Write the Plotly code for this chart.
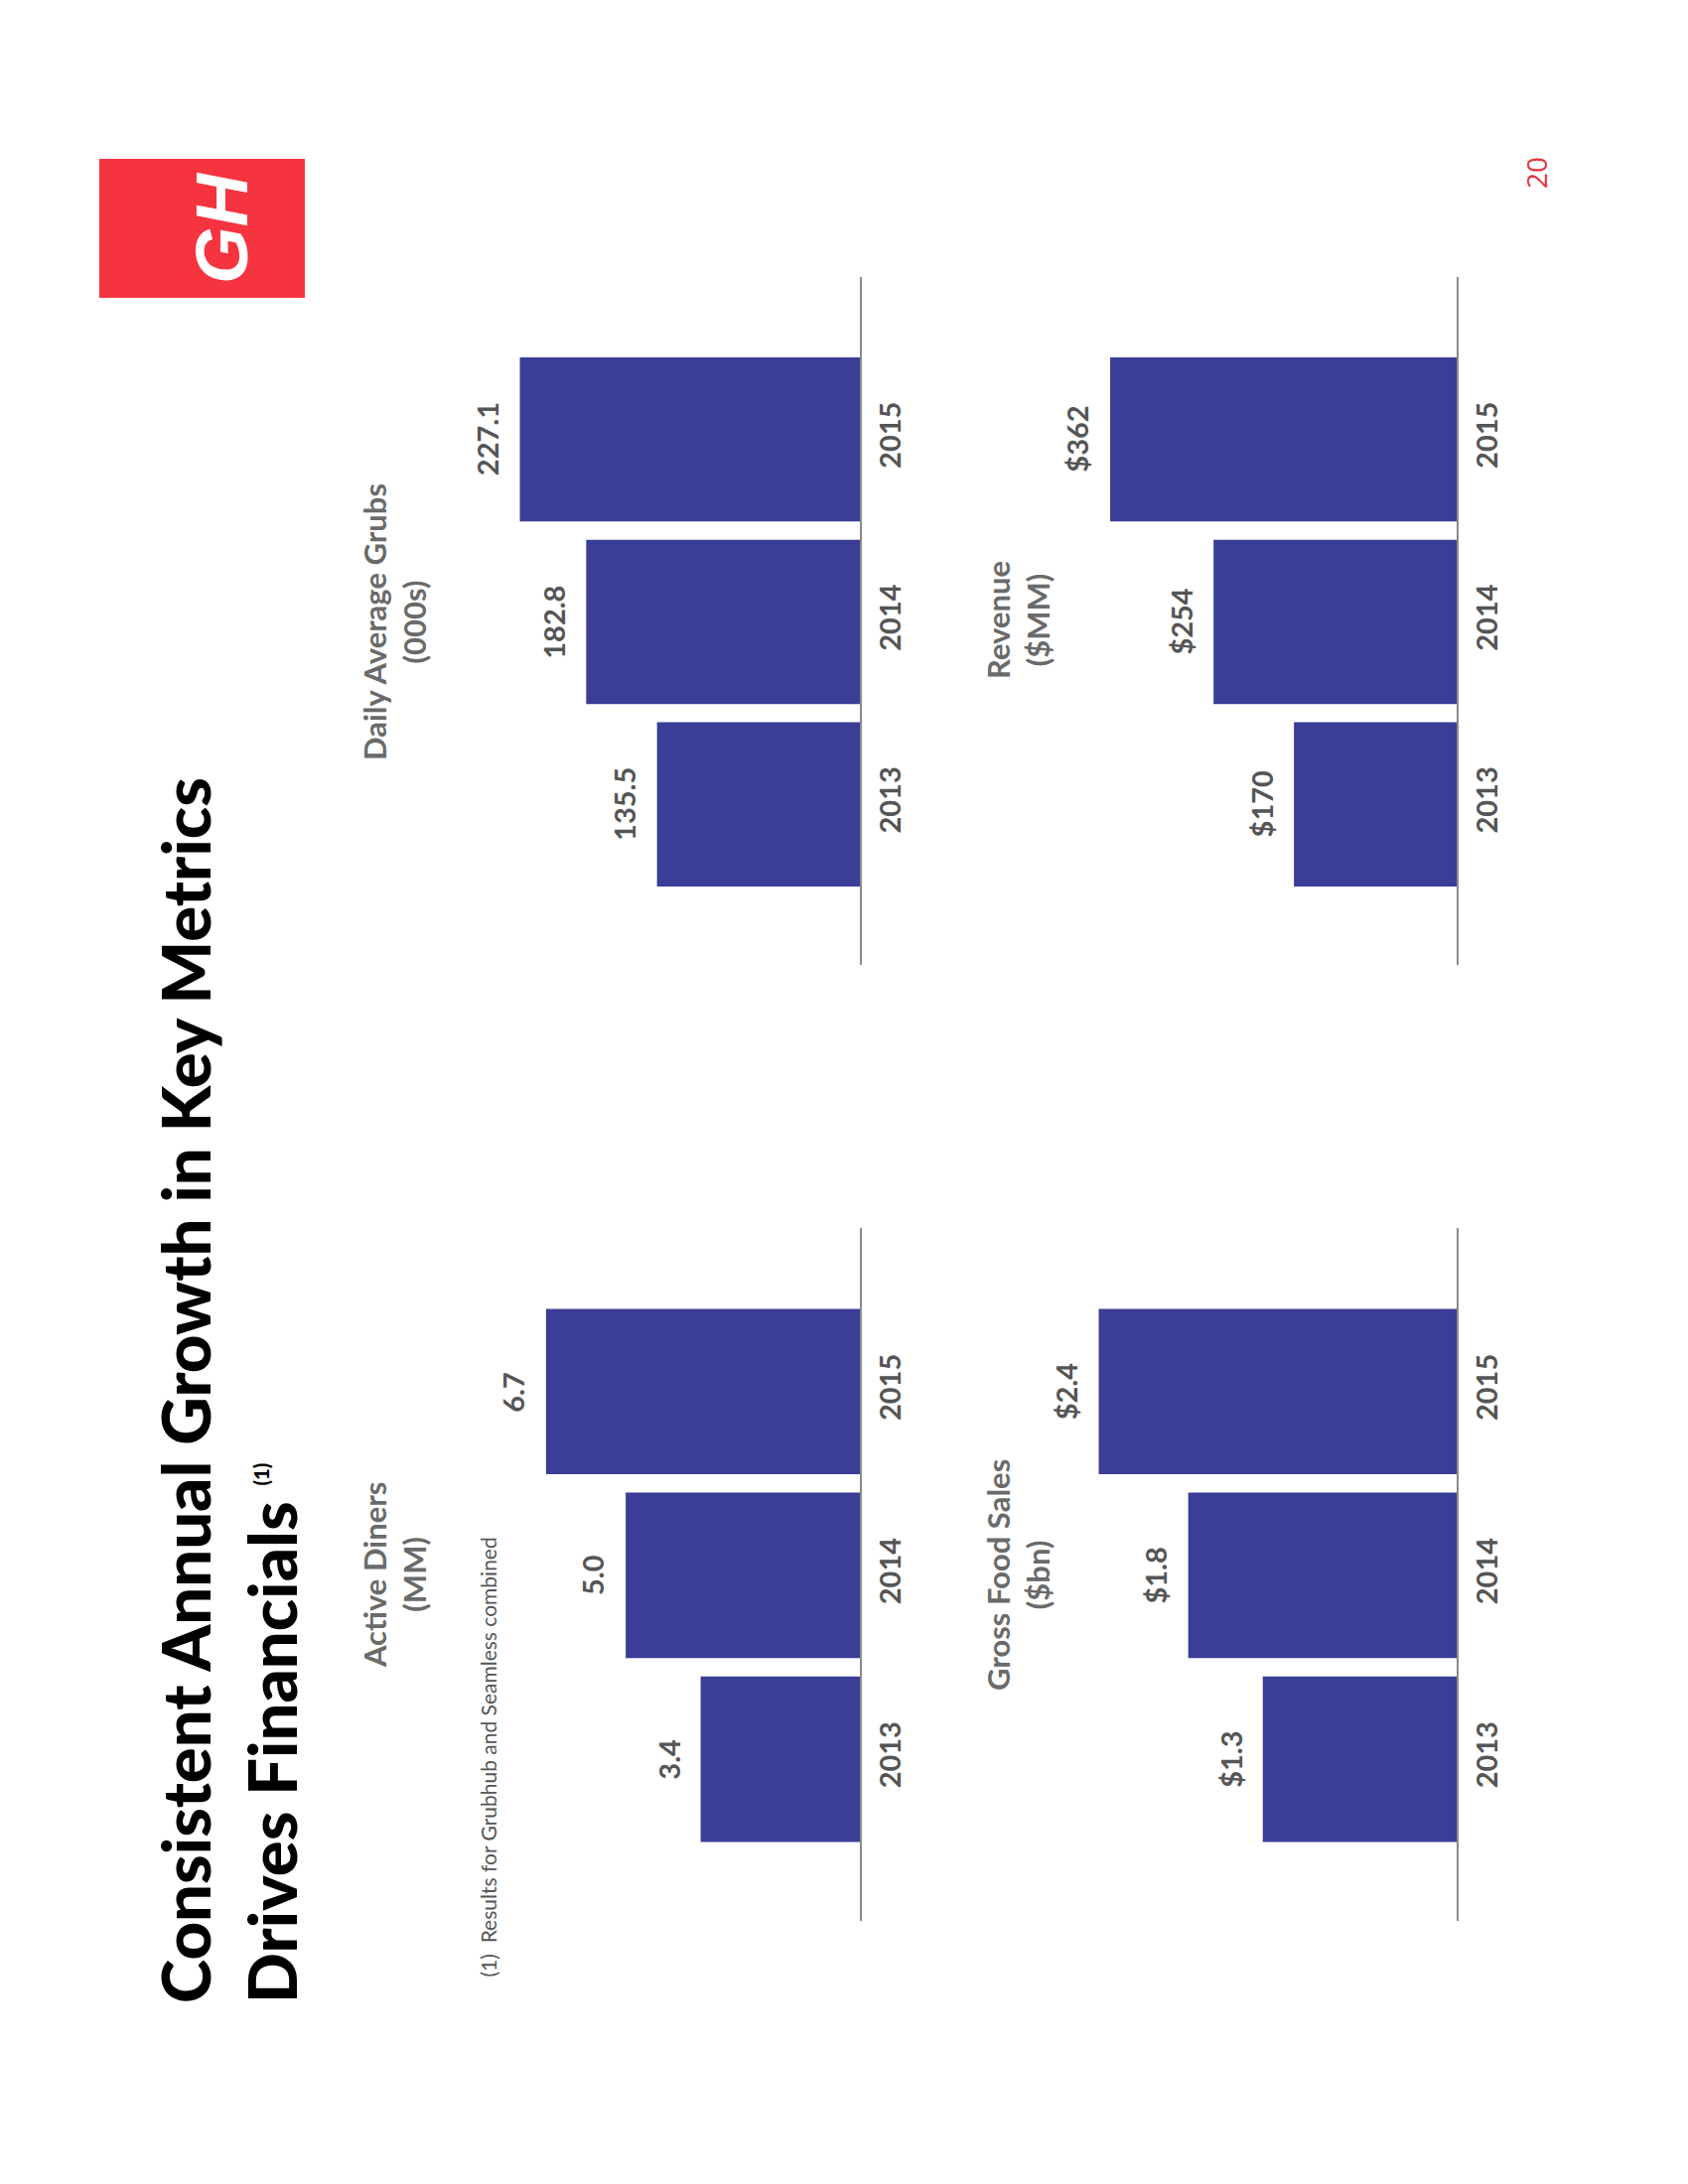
import plotly.graph_objects as go

# ---------------- data ----------------
years = ["2013", "2014", "2015"]

grubs = [135.5, 182.8, 227.1]
grubs_labels = ["135.5", "182.8", "227.1"]

diners = [3.4, 5.0, 6.7]
diners_labels = ["3.4", "5.0", "6.7"]

revenue = [170, 254, 362]
revenue_labels = ["$170", "$254", "$362"]

gfs = [1.3, 1.8, 2.4]
gfs_labels = ["$1.3", "$1.8", "$2.4"]

titles = ["Daily Average Grubs<br>(000s)", "Active Diners<br>(MM)",
          "Revenue<br>($MM)", "Gross Food Sales<br>($bn)"]

# ---------------- layout helpers ----------------
W, H = 1700, 2200
OFF = 8  # page body margin
def px(x):
    return (x - OFF) / W
def py(y):
    return 1 - (y - OFF) / H

BAR = "#3A3E97"
GREY_TXT = "#555555"
TITLE_GREY = "#6a6a6a"
LINE = "#8a8a8a"
FONT = "Lato, Open Sans, sans-serif"

panels = [
    # values, labels, title, x-domain (page px), y-domain (page px), xmax, title x, title y
    (grubs, grubs_labels, titles[0], (440, 866), (279, 972), 282.5, 397, 627),
    (diners, diners_labels, titles[1], (440, 866), (1237, 1935), 9.03, 397, 1587),
    (revenue, revenue_labels, titles[2], (1040, 1467), (279, 972), 443.0, 1025, 625),
    (gfs, gfs_labels, titles[3], (1040, 1467), (1237, 1935), 2.843, 1025, 1587),
]

fig = go.Figure()
annotations = []
layout_axes = {}

for i, (vals, labs, ttl, xd, yd, xmax, tx, ty) in enumerate(panels, start=1):
    sfx = "" if i == 1 else str(i)
    fig.add_trace(go.Bar(
        x=vals, y=years, orientation="h",
        marker=dict(color=BAR, line=dict(width=0)),
        width=0.9,
        xaxis="x" + sfx, yaxis="y" + sfx,
        showlegend=False, hoverinfo="skip",
    ))
    layout_axes["xaxis" + sfx] = dict(
        domain=[px(xd[0]), px(xd[1])], range=[xmax, 0],
        visible=False, anchor="y" + sfx, fixedrange=True,
    )
    layout_axes["yaxis" + sfx] = dict(
        domain=[py(yd[1]), py(yd[0])], anchor="x" + sfx,
        type="category", categoryorder="array", categoryarray=years,
        range=[-0.88, 2.89], side="right",
        showline=True, linecolor=LINE, linewidth=2,
        showgrid=False, zeroline=False, ticks="",
        tickangle=-90, ticklabelstandoff=4,
        tickfont=dict(family=FONT, size=29, color=GREY_TXT, weight="bold"),
        fixedrange=True,
    )
    # value labels (category index used as position on the category axis)
    for k, (v, lab) in enumerate(zip(vals, labs)):
        annotations.append(dict(
            x=v, y=k, xref="x" + sfx, yref="y" + sfx,
            text=lab, showarrow=False, textangle=-90,
            xanchor="center", yanchor="middle", xshift=-33,
            font=dict(family=FONT, size=29, color=GREY_TXT, weight="bold"),
        ))
    # panel title
    annotations.append(dict(
        x=px(tx), y=py(ty), xref="paper", yref="paper",
        text=ttl, showarrow=False, textangle=-90, align="center",
        xanchor="center", yanchor="middle",
        font=dict(family=FONT, size=31, color=TITLE_GREY, weight="bold"),
    ))

# main title
annotations.append(dict(
    x=px(144), y=py(2020), xref="paper", yref="paper",
    text=("Consistent Annual Growth in Key Metrics<br>"
          "Drives Financials <sup><span style='font-size:20px'>(1)</span></sup>"),
    showarrow=False, textangle=-90, align="left",
    xanchor="left", yanchor="bottom",
    font=dict(family=FONT, size=67, color="#000000", weight=900),
))

# footnote
annotations.append(dict(
    x=px(491), y=py(1994), xref="paper", yref="paper",
    text="(1)  Results for Grubhub and Seamless combined",
    showarrow=False, textangle=-90, xanchor="center", yanchor="bottom",
    font=dict(family=FONT, size=21, color=GREY_TXT),
))

# logo text
annotations.append(dict(
    x=px(223), y=py(230), xref="paper", yref="paper",
    text="<i>GH</i>", showarrow=False, textangle=-90,
    xanchor="center", yanchor="middle",
    font=dict(family="Liberation Sans Narrow, Liberation Sans, sans-serif", size=74,
              color="#ffffff", weight="bold"),
))

# page number
annotations.append(dict(
    x=px(1547), y=py(174), xref="paper", yref="paper",
    text="20", showarrow=False, textangle=-90,
    xanchor="center", yanchor="middle",
    font=dict(family="Open Sans, sans-serif", size=28, color="#E8333F"),
))

fig.update_layout(
    width=W, height=H,
    margin=dict(l=0, r=0, t=0, b=0),
    paper_bgcolor="#ffffff", plot_bgcolor="#ffffff",
    annotations=annotations,
    shapes=[dict(type="rect", xref="paper", yref="paper",
                 x0=px(100), x1=px(307), y0=py(300), y1=py(160),
                 fillcolor="#F63440", line=dict(width=0), layer="below")],
    **layout_axes,
)

fig.write_html("out.html")
